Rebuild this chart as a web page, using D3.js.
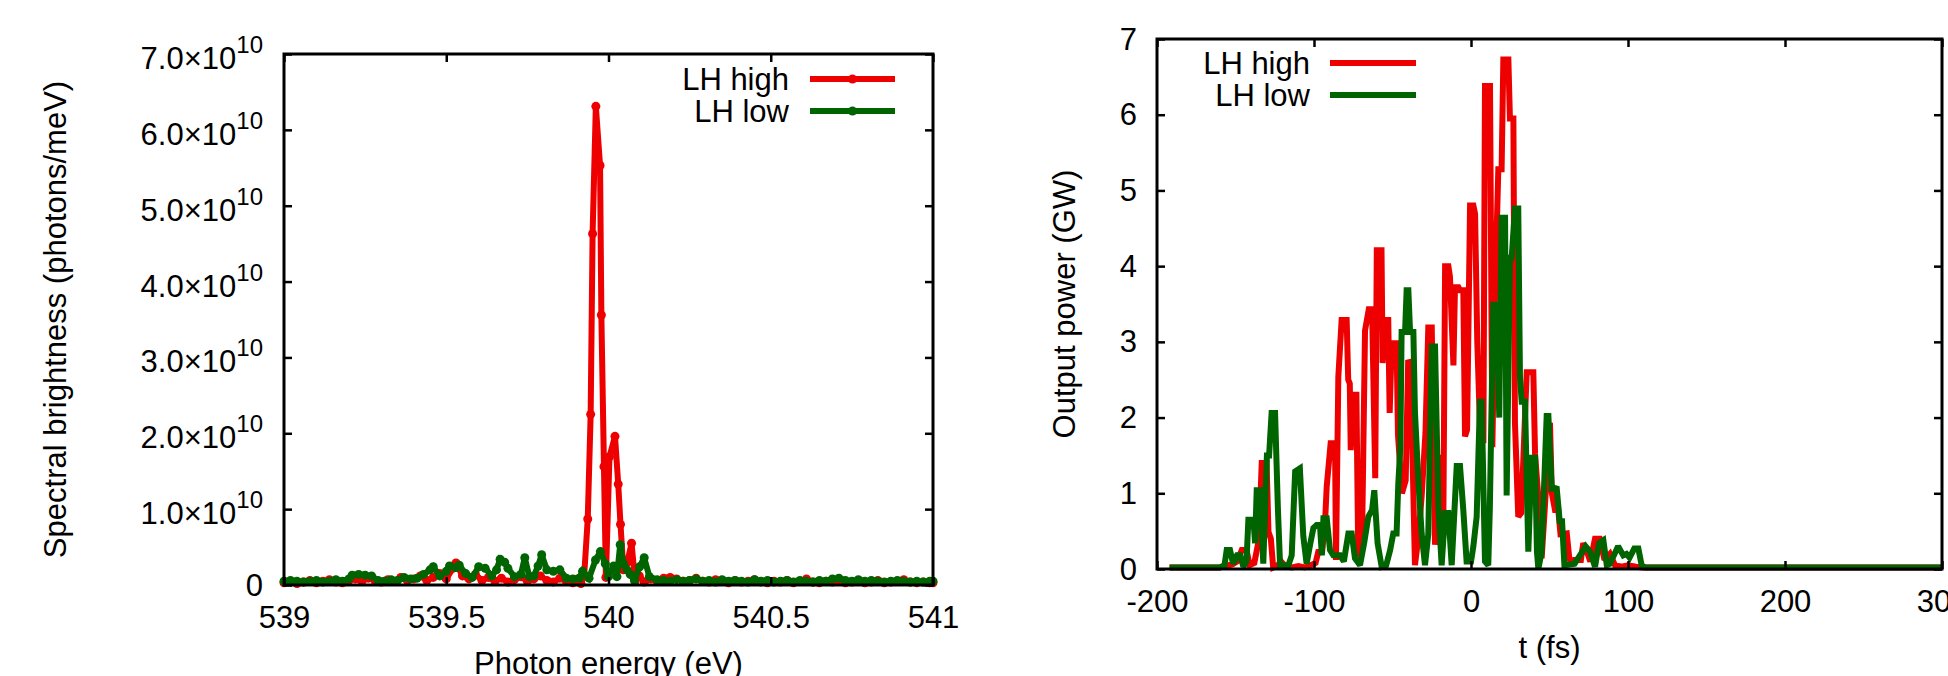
<!DOCTYPE html>
<html>
<head>
<meta charset="utf-8">
<script src="https://cdn.jsdelivr.net/npm/d3@7"></script>
<style>
  body { margin: 0; background: #fff; }
  svg { display: block; font-family: "Liberation Sans", Arial, sans-serif; }
</style>
</head>
<body>
<div id="chart"></div>
<script>
// Spectrum (photon energy in eV, brightness in units of 1e10 photons/meV)
const spectrumHigh = [
  [539.00,0.03],[539.02,0.05],[539.04,0.02],[539.06,0.04],[539.08,0.06],[539.10,0.03],[539.12,0.05],[539.14,0.07],
  [539.16,0.04],[539.18,0.03],[539.20,0.06],[539.22,0.08],[539.24,0.05],[539.26,0.09],[539.28,0.06],[539.30,0.04],
  [539.32,0.07],[539.34,0.05],[539.36,0.10],[539.38,0.06],[539.40,0.08],[539.42,0.12],[539.44,0.06],[539.46,0.10],
  [539.48,0.15],[539.50,0.08],[539.52,0.22],[539.53,0.29],[539.55,0.12],[539.57,0.08],[539.59,0.14],[539.61,0.06],
  [539.63,0.10],[539.65,0.05],[539.67,0.09],[539.69,0.04],[539.71,0.07],[539.73,0.11],[539.75,0.05],[539.77,0.08],
  [539.79,0.12],[539.81,0.06],[539.83,0.04],[539.85,0.09],[539.87,0.05],[539.89,0.03],[539.905,0.08],[539.915,0.02],
  [539.925,0.12],[539.936,0.87],[539.945,2.25],[539.951,4.63],[539.961,6.31],[539.974,5.53],[539.978,3.56],
  [539.986,1.56],[539.992,0.10],[540.003,1.69],[540.020,1.96],[540.030,1.33],[540.037,0.80],[540.046,0.20],
  [540.058,0.30],[540.071,0.55],[540.082,0.05],[540.095,0.12],[540.11,0.04],[540.13,0.08],[540.15,0.05],[540.17,0.09],
  [540.19,0.10],[540.21,0.08],[540.23,0.05],[540.25,0.06],[540.27,0.09],[540.29,0.05],[540.31,0.04],[540.33,0.07],
  [540.35,0.05],[540.37,0.03],[540.39,0.06],[540.41,0.04],[540.43,0.05],[540.45,0.07],[540.47,0.04],[540.49,0.03],
  [540.51,0.05],[540.53,0.04],[540.55,0.06],[540.57,0.03],[540.59,0.05],[540.61,0.08],[540.63,0.04],[540.65,0.03],
  [540.67,0.05],[540.69,0.04],[540.71,0.06],[540.73,0.03],[540.75,0.04],[540.77,0.05],[540.79,0.03],[540.81,0.04],
  [540.83,0.06],[540.85,0.03],[540.87,0.04],[540.89,0.05],[540.91,0.07],[540.93,0.04],[540.95,0.03],[540.97,0.04],
  [540.99,0.03],[541.00,0.03]
];
const spectrumLow = [
  [539.00,0.05],[539.02,0.06],[539.04,0.05],[539.06,0.04],[539.08,0.05],[539.10,0.06],[539.12,0.04],[539.14,0.05],
  [539.16,0.07],[539.18,0.05],[539.20,0.08],[539.21,0.13],[539.23,0.14],[539.25,0.13],[539.27,0.12],[539.29,0.06],
  [539.31,0.05],[539.33,0.07],[539.35,0.06],[539.37,0.10],[539.39,0.08],[539.41,0.09],[539.43,0.14],[539.45,0.20],
  [539.46,0.24],[539.48,0.12],[539.50,0.18],[539.51,0.25],[539.53,0.23],[539.54,0.26],[539.56,0.15],[539.58,0.10],
  [539.60,0.24],[539.62,0.22],[539.64,0.12],[539.655,0.20],[539.666,0.34],[539.68,0.30],[539.69,0.22],[539.71,0.11],
  [539.73,0.14],[539.742,0.36],[539.756,0.11],[539.77,0.12],[539.783,0.25],[539.794,0.40],[539.81,0.20],[539.83,0.18],
  [539.85,0.20],[539.87,0.09],[539.89,0.08],[539.91,0.09],[539.92,0.18],[539.94,0.09],[539.96,0.33],[539.975,0.44],
  [539.99,0.28],[540.00,0.11],[540.016,0.25],[540.026,0.11],[540.036,0.53],[540.046,0.28],[540.057,0.20],[540.067,0.14],
  [540.08,0.06],[540.096,0.24],[540.11,0.36],[540.126,0.11],[540.15,0.07],[540.17,0.06],[540.19,0.05],[540.21,0.07],
  [540.23,0.05],[540.25,0.06],[540.27,0.08],[540.29,0.05],[540.31,0.06],[540.33,0.04],[540.35,0.07],[540.37,0.05],
  [540.39,0.06],[540.41,0.05],[540.43,0.04],[540.45,0.07],[540.47,0.05],[540.49,0.06],[540.51,0.04],[540.53,0.05],
  [540.55,0.06],[540.57,0.04],[540.59,0.06],[540.61,0.05],[540.63,0.04],[540.65,0.06],[540.67,0.05],[540.69,0.08],
  [540.71,0.09],[540.73,0.06],[540.75,0.05],[540.77,0.07],[540.79,0.05],[540.81,0.06],[540.83,0.05],[540.85,0.04],
  [540.87,0.05],[540.89,0.06],[540.91,0.05],[540.93,0.04],[540.95,0.05],[540.97,0.04],[540.99,0.05],[541.00,0.05]
];

// Output power (t in fs, power in GW)
const powerHigh = [
  [-192,0.02],[-160,0.02],[-157,0.04],[-152,0.06],[-149,0.10],[-146,0.25],[-143,0.25],[-141,0.05],[-138,0.08],
  [-135,0.40],[-133.3,1.40],[-130.2,1.40],[-129,0.49],[-127.5,0.40],[-126,0.02],[-123,0.05],[-121,0.10],[-118,0.03],
  [-114,0.02],[-110,0.04],[-106,0.02],[-102,0.05],[-99,0.08],[-97,0.25],[-95,0.20],[-93,0.60],[-91.9,1.09],
  [-89.4,1.66],[-86.6,1.66],[-86,0.12],[-84.5,2.54],[-82.4,3.29],[-79.2,3.29],[-78.2,2.50],[-77.2,2.45],[-76.6,1.57],
  [-75,2.30],[-73,2.30],[-71.8,0.16],[-69.5,0.23],[-67.5,3.15],[-65.1,3.43],[-63,3.43],[-61,1.20],[-60,4.21],
  [-57,4.21],[-56.3,2.72],[-54.8,3.29],[-52.7,3.29],[-51.8,2.06],[-50.5,2.98],[-47.4,2.98],[-46.5,1.77],[-44,1.00],
  [-41.6,1.17],[-40,2.76],[-38.5,2.70],[-35.7,0.05],[-33.5,0.42],[-31.4,0.97],[-29,1.80],[-27.2,3.19],[-25,3.19],
  [-22.9,0.32],[-20.8,1.47],[-18.7,1.47],[-17.6,0.69],[-16.5,4.00],[-14.4,4.00],[-13.4,3.86],[-11.2,2.69],[-10.2,3.72],
  [-8,3.72],[-7,3.68],[-4.9,3.68],[-3.8,1.75],[-2.5,1.84],[-0.6,4.80],[1.5,4.80],[2.6,4.69],[4,3.00],[6,1.70],
  [7.9,1.70],[8.9,6.38],[12.1,6.38],[13.6,1.61],[15.3,3.63],[17.4,5.28],[19.5,5.28],[20.6,6.73],[23.8,6.73],
  [24.8,5.95],[27,5.95],[28,1.93],[30.1,0.69],[32,0.74],[35.5,2.60],[39.7,2.60],[40.8,1.52],[43,0.92],[45,0.14],
  [47,0.80],[50.3,1.93],[51.5,1.00],[53.5,0.78],[55.6,0.78],[57,0.46],[61,0.47],[62.5,0.16],[64,0.05],[66,0.12],
  [70,0.12],[71.5,0.34],[73.5,0.25],[76,0.10],[79,0.40],[82,0.40],[85,0.12],[88.5,0.20],[91.7,0.05],[96,0.03],
  [100,0.05],[105,0.03],[109,0.02],[300,0.02]
];
const powerLow = [
  [-192,0.02],[-160,0.02],[-157,0.05],[-155.6,0.25],[-153.5,0.25],[-151.5,0.07],[-149,0.18],[-147,0.18],[-145,0.03],
  [-143,0.10],[-141.8,0.65],[-138.6,0.65],[-137.5,0.34],[-136.5,1.04],[-134.4,1.04],[-132.3,0.07],[-130,1.50],
  [-128.6,1.50],[-127,2.06],[-124.8,2.06],[-123,0.80],[-121.6,0.05],[-116.3,0.05],[-114.2,0.18],[-112,1.29],
  [-109,1.33],[-106.8,0.43],[-104.7,0.07],[-102.5,0.32],[-100.4,0.54],[-98.3,0.58],[-96.2,0.58],[-95,0.18],
  [-94,0.67],[-91.9,0.67],[-89.8,0.25],[-87.7,0.18],[-83.4,0.18],[-81,0.10],[-78.1,0.47],[-76,0.47],[-73.9,0.14],
  [-70.7,0.05],[-68,0.35],[-65.4,0.69],[-63,0.78],[-61.6,1.04],[-59.5,0.34],[-56.9,0.03],[-54,0.05],[-51.5,0.25],
  [-49.5,0.47],[-47.4,0.47],[-46.3,1.13],[-45,1.61],[-44.2,3.13],[-42,3.13],[-41,3.68],[-39.9,3.68],[-38.8,3.13],
  [-36.7,3.13],[-35.7,2.07],[-33.5,1.15],[-31.4,0.46],[-29.3,0.05],[-27.2,0.46],[-25,2.94],[-22.9,2.94],[-20.8,0.83],
  [-18.7,0.05],[-16.5,0.74],[-14.4,0.74],[-12.3,0.05],[-9.1,1.36],[-7,1.36],[-4.9,0.78],[-2.8,0.10],[0,0.10],
  [1.5,0.30],[3.6,0.69],[5.7,2.21],[6.8,2.21],[8.9,0.10],[11,0.05],[12,0.80],[14.2,3.49],[16.4,3.49],[18,2.00],
  [19.5,4.64],[21.7,4.64],[22.7,0.97],[24.8,4.11],[25.9,4.11],[28,4.76],[30.1,4.76],[31.2,2.53],[32.3,2.21],
  [34.4,2.21],[36.5,0.23],[38.6,1.47],[40.8,1.47],[42,0.23],[42.9,0.00],[45,0.23],[48.2,2.02],[49.3,2.02],
  [51.4,1.06],[53.5,1.06],[54.5,1.09],[56.5,0.63],[58,0.63],[59.5,0.05],[66,0.07],[70,0.20],[73,0.30],[75.8,0.23],
  [79,0.03],[81.5,0.34],[84.3,0.38],[86.5,0.05],[88.5,0.07],[93.7,0.30],[97,0.18],[99,0.20],[101,0.15],[104,0.27],
  [106.6,0.27],[108.7,0.05],[111,0.02],[300,0.02]
];

const seriesNames = ["LH high", "LH low"];
const seriesColors = ["#ee0000", "#006400"];
const energyTicks = [539, 539.5, 540, 540.5, 541];
const brightnessTicks = [0, 1, 2, 3, 4, 5, 6, 7];
const timeTicks = [-200, -100, 0, 100, 200, 300];
const powerTicks = [0, 1, 2, 3, 4, 5, 6, 7];

const width = 1948, height = 676;
const fontSize = 31;

const svg = d3.select("#chart").append("svg")
  .attr("width", width)
  .attr("height", height);

function drawPanel(cfg) {
  const x = d3.scaleLinear().domain(cfg.xDomain).range([cfg.left, cfg.left + cfg.w]);
  const y = d3.scaleLinear().domain(cfg.yDomain).range([cfg.top + cfg.h, cfg.top]);
  const g = svg.append("g");

  // data lines
  const line = d3.line().x(d => x(d[0])).y(d => y(d[1]));
  cfg.series.forEach((s, i) => {
    g.append("path")
      .datum(s)
      .attr("fill", "none")
      .attr("stroke", seriesColors[i])
      .attr("stroke-width", 6)
      .attr("stroke-linejoin", "miter")
      .attr("stroke-miterlimit", 2)
      .attr("d", line);
    if (cfg.points) {
      g.append("g").selectAll("circle")
        .data(s)
        .join("circle")
        .attr("cx", d => x(d[0]))
        .attr("cy", d => y(d[1]))
        .attr("r", 4.5)
        .attr("fill", seriesColors[i]);
    }
  });

  // axes, ticks pointing inward on all four sides
  const styleAxis = sel => {
    sel.select(".domain").remove();
    sel.selectAll(".tick line").attr("stroke", "#000").attr("stroke-width", 2.5);
    sel.attr("font-size", fontSize).attr("font-family", null);
    sel.selectAll(".tick text").attr("fill", "#000");
  };

  g.append("g")
    .attr("transform", `translate(0,${cfg.top + cfg.h})`)
    .call(d3.axisBottom(x).tickValues(cfg.xTicks).tickSizeInner(-8).tickSizeOuter(0)
      .tickPadding(21).tickFormat(d => String(d)))
    .call(styleAxis);

  g.append("g")
    .attr("transform", `translate(0,${cfg.top})`)
    .call(d3.axisTop(x).tickValues(cfg.xTicks).tickSizeInner(-8).tickSizeOuter(0).tickFormat(""))
    .call(styleAxis);

  const yAxis = g.append("g")
    .attr("transform", `translate(${cfg.left},0)`)
    .call(d3.axisLeft(y).tickValues(cfg.yTicks).tickSizeInner(-8).tickSizeOuter(0)
      .tickPadding(cfg.yPad).tickFormat(d => String(d)))
    .call(styleAxis);

  g.append("g")
    .attr("transform", `translate(${cfg.left + cfg.w},0)`)
    .call(d3.axisRight(y).tickValues(cfg.yTicks).tickSizeInner(-8).tickSizeOuter(0).tickFormat(""))
    .call(styleAxis);

  if (cfg.sciLabels) {
    yAxis.selectAll(".tick text").each(function (d) {
      const t = d3.select(this);
      if (d === 0) { t.attr("dy", 10); return; }
      t.text(null).attr("dy", 14.5);
      t.append("tspan").text(d.toFixed(1) + "\u00d710");
      t.append("tspan").attr("dy", -16).attr("font-size", 24).text("10");
    });
  } else {
    yAxis.selectAll(".tick text").attr("dy", 10);
  }

  // frame
  g.append("rect")
    .attr("x", cfg.left).attr("y", cfg.top)
    .attr("width", cfg.w).attr("height", cfg.h)
    .attr("fill", "none")
    .attr("stroke", "#000")
    .attr("stroke-width", 3);

  // axis titles
  g.append("text")
    .attr("x", cfg.left + cfg.w / 2)
    .attr("y", cfg.xTitleY)
    .attr("text-anchor", "middle")
    .attr("font-size", fontSize)
    .text(cfg.xTitle);

  g.append("text")
    .attr("transform", `translate(${cfg.yTitleX},${cfg.top + cfg.h / 2}) rotate(-90)`)
    .attr("text-anchor", "middle")
    .attr("font-size", fontSize)
    .text(cfg.yTitle);

  // legend
  seriesNames.forEach((name, i) => {
    const ly = cfg.legend.y + i * 32;
    g.append("text")
      .attr("x", cfg.legend.textX)
      .attr("y", ly + 10.5)
      .attr("text-anchor", "end")
      .attr("font-size", fontSize)
      .text(name);
    g.append("line")
      .attr("x1", cfg.legend.x1).attr("x2", cfg.legend.x2)
      .attr("y1", ly).attr("y2", ly)
      .attr("stroke", seriesColors[i])
      .attr("stroke-width", 6);
    if (cfg.points) {
      g.append("circle")
        .attr("cx", (cfg.legend.x1 + cfg.legend.x2) / 2)
        .attr("cy", ly)
        .attr("r", 4.5)
        .attr("fill", seriesColors[i]);
    }
  });
}

drawPanel({
  left: 284, top: 54, w: 649, h: 531,
  xDomain: [539, 541], yDomain: [0, 7],
  xTicks: energyTicks, yTicks: brightnessTicks,
  yPad: 21, sciLabels: true, points: true,
  series: [spectrumHigh, spectrumLow],
  xTitle: "Photon energy (eV)", xTitleY: 674,
  yTitle: "Spectral brightness (photons/meV)", yTitleX: 66,
  legend: { y: 79, textX: 789, x1: 810, x2: 895 }
});

drawPanel({
  left: 1157, top: 39, w: 785, h: 530,
  xDomain: [-200, 300], yDomain: [0, 7],
  xTicks: timeTicks, yTicks: powerTicks,
  yPad: 20, sciLabels: false, points: false,
  series: [powerHigh, powerLow],
  xTitle: "t (fs)", xTitleY: 658,
  yTitle: "Output power (GW)", yTitleX: 1075,
  legend: { y: 63, textX: 1310, x1: 1330, x2: 1416 }
});
</script>
</body>
</html>
